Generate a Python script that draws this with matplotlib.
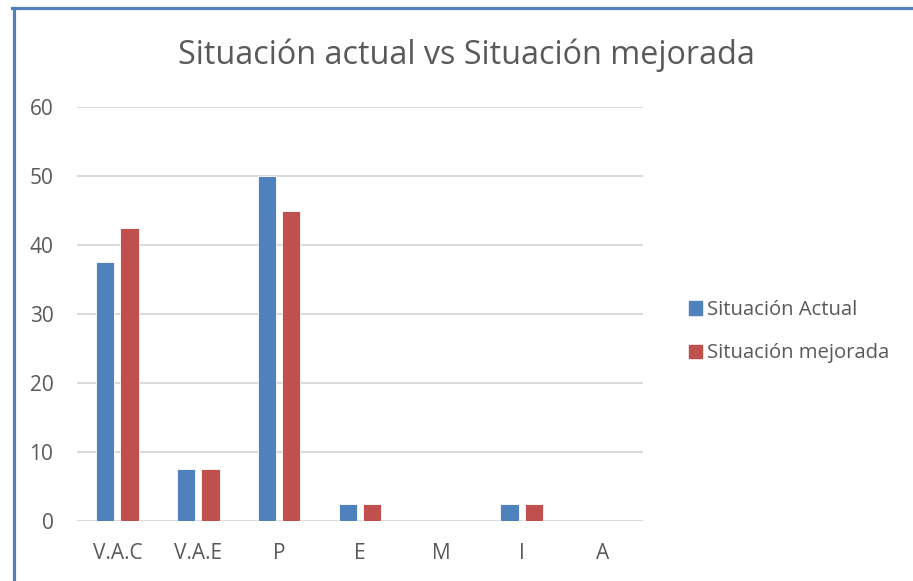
import matplotlib.pyplot as plt
import numpy as np
from matplotlib.lines import Line2D
from matplotlib.patches import Patch

plt.rcParams['font.family'] = ['Open Sans', 'DejaVu Sans']

categorias = ["V.A.C", "V.A.E", "P", "E", "M", "I", "A"]
actual = [37.5, 7.5, 50, 2.5, 0, 2.5, 0]
mejorada = [42.5, 7.5, 45, 2.5, 0, 2.5, 0]

azul = "#4F81BD"
rojo = "#C0504D"
gris_txt = "#595959"

W, H = 913, 581
fig = plt.figure(figsize=(W / 100, H / 100), dpi=100)

ax = fig.add_axes([77 / W, 1 - 521 / H, (643 - 77) / W, (521 - 107) / H])
x = np.arange(len(categorias))
ax.bar(x - 0.15, actual, width=0.225, color=azul, edgecolor="white", linewidth=0.6, zorder=3)
ax.bar(x + 0.15, mejorada, width=0.225, color=rojo, edgecolor="white", linewidth=0.6, zorder=3)

ax.set_xlim(-0.5, len(categorias) - 0.5)
ax.set_ylim(0, 60)
ax.set_yticks(range(0, 61, 10))
ax.set_xticks(x)
ax.set_xticklabels(categorias)
ax.grid(axis="y", color="#D9D9D9", linewidth=1.4, zorder=0)
for s in ax.spines.values():
    s.set_visible(False)
ax.tick_params(length=0, labelsize=15, labelcolor=gris_txt)
ax.tick_params(axis="y", pad=17)
ax.tick_params(axis="x", pad=16)

fig.text(466 / W, 1 - 55 / H, "Situación actual vs Situación mejorada",
         ha="center", va="center", fontsize=23.3, color=gris_txt)

handles = [Patch(color=azul), Patch(color=rojo)]
leg = fig.legend(handles, ["Situación Actual", "Situación mejorada"],
                 loc="upper left", bbox_to_anchor=(681 / W, 1 - 292 / H),
                 frameon=False, fontsize=14.6, handlelength=0.65, handleheight=0.65,
                 handletextpad=0.25, labelspacing=1.15, borderaxespad=0)
for t in leg.get_texts():
    t.set_color(gris_txt)

# borde del grafico
fig.add_artist(Line2D([13.5 / W, 13.5 / W], [0, 1 - 7.5 / H], color=azul, linewidth=2.3))
fig.add_artist(Line2D([12 / W, 1], [1 - 7.5 / H, 1 - 7.5 / H], color=azul, linewidth=2.3))

fig.savefig("out.png", dpi=100)
